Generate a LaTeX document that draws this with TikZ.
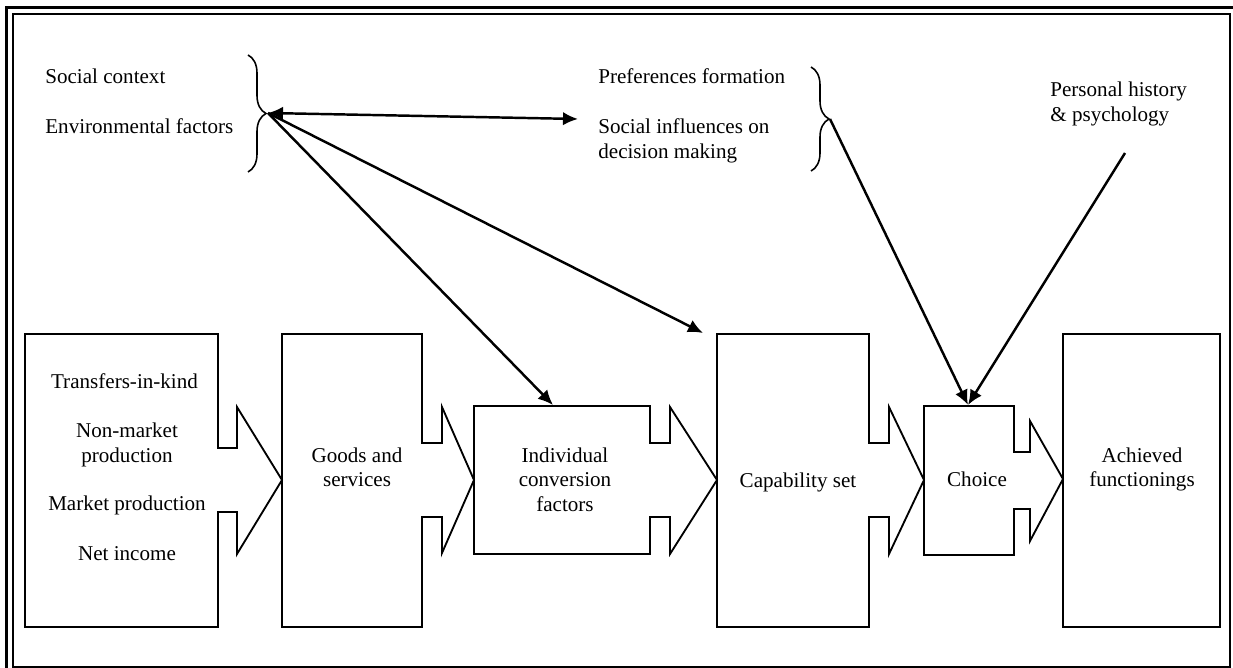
\documentclass[tikz,border=0pt]{standalone}
\usepackage{fontspec}
\setmainfont{Liberation Serif}
\usetikzlibrary{arrows.meta, decorations.pathreplacing, positioning}

\tikzset{
  lbl/.style={font=\fontsize{12}{14}\selectfont, inner sep=0pt},
  flowbox/.style={line width=1.05pt, line join=miter},
  link/.style={line width=1.4pt, ->},
  curly/.style={line width=0.9pt, decorate, decoration={brace, amplitude=0.36cm}},
  frameline/.style={line width=1.3pt}
}

\begin{document}
\begin{tikzpicture}[x=0.02cm, y=-0.02cm, >={Latex[length=0.3cm, width=0.27cm]}]
        \useasboundingbox (0,0) rectangle (1233,668);
        %double frame
        \draw[frameline] (6.5,7.5) rectangle (1237,673);
        \draw[frameline] (13,14.3) rectangle (1230,667);

        %blocks with their arrows
        \draw[flowbox] (25,334) -- (218,334) -- (218,448) -- (237,448) -- (237,407) -- (282,480)
          -- (237,554) -- (237,512) -- (218,512) -- (218,627) -- (25,627) -- cycle;
        \draw[flowbox] (282,334) -- (422,334) -- (422,443) -- (442,443) -- (442,407) -- (474,480)
          -- (442,553) -- (442,517) -- (422,517) -- (422,627) -- (282,627) -- cycle;
        \draw[flowbox] (474,406) -- (650,406) -- (650,443) -- (670,443) -- (670,407) -- (717,480)
          -- (670,554) -- (670,517) -- (650,517) -- (650,554) -- (474,554) -- cycle;
        \draw[flowbox] (717,334) -- (869,334) -- (869,443) -- (889,443) -- (889,407) -- (924,480)
          -- (889,554) -- (889,517) -- (869,517) -- (869,627) -- (717,627) -- cycle;
        \draw[flowbox] (924,406) -- (1014,406) -- (1014,452) -- (1030,452) -- (1030,421) -- (1063,479)
          -- (1030,541) -- (1030,509) -- (1014,509) -- (1014,555) -- (924,555) -- cycle;
        \draw[flowbox] (1063,334) rectangle (1220,627);

        %texts in the blocks
        \node[lbl, anchor=base] (transfers) at (124.5,389) {Transfers-in-kind};
        \node[lbl, anchor=north, align=center] (nonmarket) at (127,422.5) {Non-market\\production};
        \node[lbl, anchor=base] (market) at (127,510) {Market production};
        \node[lbl, anchor=base] (income) at (127,560) {Net income};
        \node[lbl, anchor=north, align=center] (goods) at (357,447.4) {Goods and\\services};
        \node[lbl, anchor=north, align=center] (convert) at (565,447.4) {Individual\\conversion\\factors};
        \node[lbl, anchor=base] (capability) at (798,487) {Capability set};
        \node[lbl, anchor=base] (choice) at (977,486) {Choice};
        \node[lbl, anchor=north, align=center] (achieved) at (1142,447.4) {Achieved\\functionings};

        %texts at the top
        \node[lbl, anchor=base west] (social) at (45,84) {Social context};
        \node[lbl, anchor=base west] (environ) at (45,134) {Environmental factors};
        \node[lbl, anchor=base west] (prefs) at (598,84) {Preferences formation};
        \node[lbl, anchor=north west, align=left] (influence) at (598,118.5) {Social influences on\\decision making};
        \node[lbl, anchor=north west, align=left] (history) at (1050,81.5) {Personal history\\\& psychology};

        %braces
        \draw[curly] (248,55) -- (248,172);
        \draw[curly] (811,67) -- (811,171);
        \coordinate (ctxtip) at (268,113);
        \coordinate (preftip) at (830,119);
        \coordinate (histend) at (1125,153);
        \coordinate (prefend) at (578,119);
        \coordinate (converttop) at (553,405);
        \coordinate (capabilitytop) at (703,333);
        \coordinate (choicetop) at (968,405);

        %connectors
        \draw[link, <->] (ctxtip) -- (prefend);
        \draw[link] (ctxtip) -- (converttop);
        \draw[link] (ctxtip) -- (capabilitytop);
        %----
        \draw[link] (preftip) -- (choicetop);
        \draw[link] (histend) -- (choicetop);
\end{tikzpicture}
\end{document}
